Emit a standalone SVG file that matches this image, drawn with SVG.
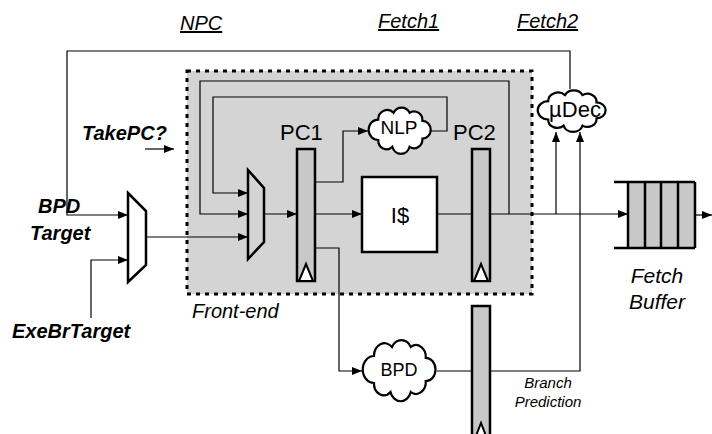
<svg xmlns="http://www.w3.org/2000/svg" xmlns:xlink="http://www.w3.org/1999/xlink" width="712" height="434" viewBox="0 0 712 434">
<style>
text{font-family:"Liberation Sans",Arial,sans-serif;fill:#000}
.lbl{font-size:20px;font-style:italic}
.bi{font-size:20px;font-style:italic;font-weight:bold}
.stage{font-size:20px;font-style:italic;text-decoration:underline}
.big{font-size:22px}
.wire{fill:none;stroke:#000;stroke-width:1.2}
.arr{marker-end:url(#ah)}
.reg{fill:#c8c8c8;stroke:#000;stroke-width:2.5}
.clk{fill:#fff;stroke:#000;stroke-width:2}
.shape{stroke:#000;stroke-width:2.5}
.cloud{fill:#fff;stroke:#000;stroke-width:2.2;vector-effect:non-scaling-stroke}
</style>
<defs>
<marker id="ah" markerUnits="userSpaceOnUse" markerWidth="11" markerHeight="8" refX="10" refY="4" orient="auto">
<path d="M0,0 L10,4 L0,8 z" fill="#000"/>
</marker>
<path id="cloudP" class="cloud" d="M16,20 A14,14 0 0 1 40,10 A14,14 0 0 1 65,10 A13,13 0 0 1 85,22 A13,13 0 0 1 85,48 A13,13 0 0 1 65,60 A14,14 0 0 1 38,60 A13,13 0 0 1 16,50 A15,15 0 0 1 16,20 Z"/>
</defs>

<g id="frontend">
<rect x="187" y="71" width="345" height="223" fill="#d4d4d4" stroke="#000" stroke-width="3" stroke-dasharray="4 5"/>
<text class="lbl" x="192" y="318">Front-end</text>
</g>

<g id="connectors">
<path class="wire arr" d="M570,89 V51 H67 V215 H128"/>
<path class="wire arr" d="M91,318 V260 H128"/>
<path class="wire arr" d="M146,237 H248"/>
<path class="wire arr" d="M509,214 V81 H200 V214 H248"/>
<path class="wire arr" d="M431,131 H447 V97 H213 V193 H248"/>
<path class="wire arr" d="M315,182 H343 V131 H368"/>
<path class="wire arr" d="M264,214 H297"/>
<path class="wire arr" d="M315,214 H362"/>
<path class="wire arr" d="M315,248 H339 V371 H362"/>
<path class="wire arr" d="M437,214 H628"/>
<path class="wire arr" d="M556,214 V132"/>
<path class="wire arr" d="M490,371 H580 V132"/>
<path class="wire" d="M437,371 H472"/>
<path class="wire arr" d="M145,149 H174"/>
<path class="wire arr" d="M695,215 H712"/>
</g>

<g id="labels">
<text class="stage" x="180" y="30">NPC</text>
<text class="stage" x="378" y="28">Fetch1</text>
<text class="stage" x="517" y="28">Fetch2</text>
<text class="bi" x="82" y="140">TakePC?</text>
<text class="bi" x="38" y="213">BPD</text>
<text class="bi" x="30" y="240">Target</text>
<text class="bi" x="12" y="338">ExeBrTarget</text>
</g>

<g id="mux2">
<polygon class="shape" fill="#fff" points="128,193 146,211 146,265 128,282"/>
</g>

<g id="mux1">
<polygon class="shape" fill="#d4d4d4" points="248,170 264,188 264,242 248,259"/>
</g>

<g id="pc1">
<rect class="reg" x="297" y="149" width="18" height="132"/>
<polygon class="clk" points="299,281 306,264 313,281"/>
<text class="big" x="280" y="140">PC1</text>
</g>

<g id="nlp">
<use xlink:href="#cloudP" transform="translate(368,106) scale(0.64,0.68)"/>
<text x="399" y="134" font-size="19" text-anchor="middle">NLP</text>
</g>

<g id="icache">
<rect class="shape" fill="#fff" x="362" y="177" width="75" height="75"/>
<text class="big" x="400" y="223" text-anchor="middle">I$</text>
</g>

<g id="pc2">
<rect class="reg" x="472" y="149" width="18" height="132"/>
<polygon class="clk" points="474,281 481,264 488,281"/>
<text class="big" x="453" y="140">PC2</text>
</g>

<g id="udec">
<use xlink:href="#cloudP" transform="translate(537,89) scale(0.7,0.61)"/>
<text x="575" y="117" font-size="22" text-anchor="middle">µDec</text>
</g>

<g id="bpd">
<use xlink:href="#cloudP" transform="translate(362,338) scale(0.75,0.9)"/>
<text x="399" y="376" font-size="18" text-anchor="middle">BPD</text>
</g>

<g id="pc3">
<rect class="reg" x="472" y="306" width="18" height="140"/>
<polygon class="clk" points="474,441 481,423 488,441"/>
<text x="548" y="388" font-size="15" font-style="italic" text-anchor="middle">Branch</text>
<text x="548" y="407" font-size="15" font-style="italic" text-anchor="middle">Prediction</text>
</g>

<g id="fetchbuffer">
<rect x="628" y="182" width="67" height="66" fill="#c8c8c8"/>
<path d="M614,182 H695 M614,248 H695 M628,182 V248 M645,182 V248 M661,182 V248 M678,182 V248 M695,182 V248" fill="none" stroke="#000" stroke-width="2.5"/>
<text x="657" y="283" font-size="21" font-style="italic" text-anchor="middle">Fetch</text>
<text x="657" y="309" font-size="21" font-style="italic" text-anchor="middle">Buffer</text>
</g>
</svg>
